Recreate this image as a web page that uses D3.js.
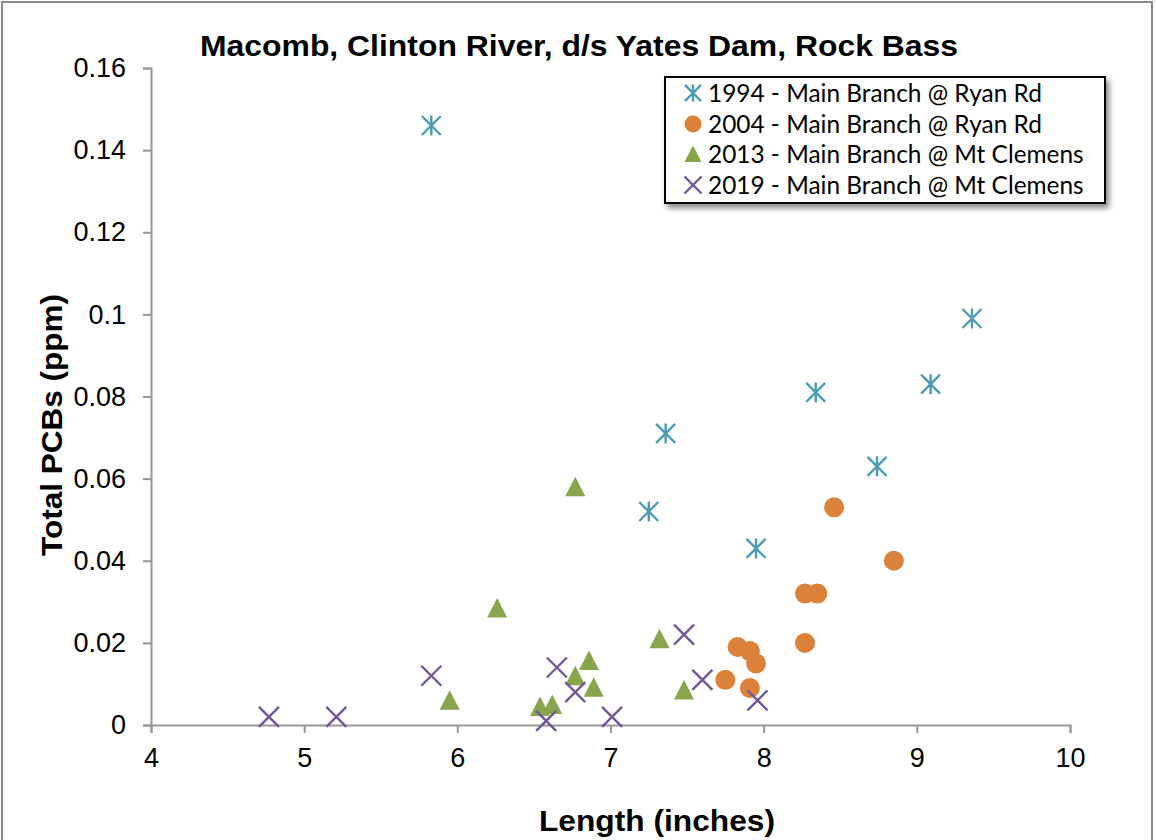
<!DOCTYPE html>
<html>
<head>
<meta charset="utf-8">
<script src="https://cdn.jsdelivr.net/npm/d3@7"></script>
<style>
  html, body { margin: 0; padding: 0; background: #fff; }
  svg { display: block; }
</style>
</head>
<body>
<svg id="chart" width="1156" height="840"></svg>
<script>
// ---- Data ----
const title = "Macomb, Clinton River, d/s Yates Dam, Rock Bass";
const xLabel = "Length (inches)";
const yLabel = "Total PCBs (ppm)";
const xTicks = [4, 5, 6, 7, 8, 9, 10];
const yTicks = [0, 0.02, 0.04, 0.06, 0.08, 0.1, 0.12, 0.14, 0.16];
const seriesNames = [
  "1994 - Main Branch @ Ryan Rd",
  "2004 - Main Branch @ Ryan Rd",
  "2013 - Main Branch @ Mt Clemens",
  "2019 - Main Branch @ Mt Clemens"
];
const len1994 = [5.83, 7.36, 7.25, 7.95, 8.34, 8.74, 9.09, 9.36];
const pcb1994 = [0.146, 0.071, 0.052, 0.043, 0.081, 0.063, 0.083, 0.099];
const len2004 = [8.46, 8.85, 8.27, 8.35, 8.27, 7.83, 7.91, 7.95, 7.75, 7.91];
const pcb2004 = [0.053, 0.040, 0.032, 0.032, 0.020, 0.019, 0.018, 0.015, 0.011, 0.009];
const len2013 = [6.77, 6.26, 5.95, 6.54, 6.62, 6.77, 6.86, 6.89, 7.32, 7.48];
const pcb2013 = [0.058, 0.0285, 0.006, 0.0045, 0.005, 0.012, 0.0157, 0.0092, 0.021, 0.0085];
const len2019 = [4.77, 5.21, 5.83, 6.65, 6.77, 6.58, 7.01, 7.48, 7.60, 7.96];
const pcb2019 = [0.002, 0.002, 0.012, 0.014, 0.008, 0.001, 0.002, 0.022, 0.011, 0.006];

const colors = ["#4A9DB5", "#DB8139", "#87A54B", "#73559B"];
const shapes = ["star", "circle", "triangle", "x"];

const series = [
  { name: seriesNames[0], xs: len1994, ys: pcb1994 },
  { name: seriesNames[1], xs: len2004, ys: pcb2004 },
  { name: seriesNames[2], xs: len2013, ys: pcb2013 },
  { name: seriesNames[3], xs: len2019, ys: pcb2019 }
].map((s, i) => ({ ...s, color: colors[i], shape: shapes[i],
  points: s.xs.map((x, j) => ({ x, y: s.ys[j] })) }));

// ---- Layout ----
const svg = d3.select("#chart");
const plot = { left: 151, right: 1070, top: 68, bottom: 725 };

// outer chart border
svg.append("rect").attr("x", 2).attr("y", 2).attr("width", 1150).attr("height", 860)
  .attr("fill", "#fff").attr("stroke", "#8a8a8a").attr("stroke-width", 2);

const x = d3.scaleLinear().domain([4, 10]).range([plot.left, plot.right]);
const y = d3.scaleLinear().domain([0, 0.16]).range([plot.bottom, plot.top]);

const axisColor = "#979797";

// Y axis
const yAxis = svg.append("g").attr("transform", `translate(${plot.left},0)`)
  .call(d3.axisLeft(y).tickValues(yTicks).tickSize(8).tickPadding(17)
    .tickFormat(d => d3.format("")(+d.toFixed(2))));
yAxis.select(".domain").attr("stroke", axisColor).attr("stroke-width", 2);
yAxis.selectAll(".tick line").attr("stroke", axisColor).attr("stroke-width", 2);
yAxis.selectAll(".tick text").attr("fill", "#000")
  .style("font-family", "'Liberation Sans', Arial, sans-serif").style("font-size", "27px");

// X axis
const xAxis = svg.append("g").attr("transform", `translate(0,${plot.bottom})`)
  .call(d3.axisBottom(x).tickValues(xTicks).tickSize(8).tickPadding(15).tickFormat(d3.format("d")));
xAxis.select(".domain").attr("stroke", axisColor).attr("stroke-width", 2);
xAxis.selectAll(".tick line").attr("stroke", axisColor).attr("stroke-width", 2);
xAxis.selectAll(".tick text").attr("fill", "#000")
  .style("font-family", "'Liberation Sans', Arial, sans-serif").style("font-size", "27px");

// Title
svg.append("text").attr("x", 579).attr("y", 56).attr("text-anchor", "middle")
  .attr("textLength", 758).attr("lengthAdjust", "spacingAndGlyphs")
  .style("font-family", "'Liberation Sans', Arial, sans-serif").style("font-weight", "bold")
  .style("font-size", "29px").text(title);

// Axis titles
svg.append("text").attr("x", 657).attr("y", 831).attr("text-anchor", "middle")
  .attr("textLength", 236).attr("lengthAdjust", "spacingAndGlyphs")
  .style("font-family", "'Liberation Sans', Arial, sans-serif").style("font-weight", "bold")
  .style("font-size", "29px").text(xLabel);

svg.append("text").attr("transform", "translate(62,425) rotate(-90)").attr("text-anchor", "middle")
  .attr("textLength", 262).attr("lengthAdjust", "spacingAndGlyphs")
  .style("font-family", "'Liberation Sans', Arial, sans-serif").style("font-weight", "bold")
  .style("font-size", "29px").text(yLabel);

// ---- Marker drawing ----
function drawMarker(g, shape, color, size) {
  const h = size / 2;
  if (shape === "circle") {
    g.append("circle").attr("r", h).attr("fill", color);
  } else if (shape === "triangle") {
    g.append("path").attr("d", `M0,${-h} L${h},${h * 0.95} L${-h},${h * 0.95} Z`).attr("fill", color);
  } else if (shape === "x") {
    g.append("path").attr("d", `M${-h},${-h} L${h},${h} M${-h},${h} L${h},${-h}`)
      .attr("stroke", color).attr("stroke-width", 2.4).attr("fill", "none");
  } else if (shape === "star") {
    const d = h * 0.95;
    g.append("path").attr("d", `M${-d},${-d} L${d},${d} M${-d},${d} L${d},${-d} M0,${-h} L0,${h}`)
      .attr("stroke", color).attr("stroke-width", 2.4).attr("fill", "none");
  }
}

const markerG = svg.append("g");
series.forEach(s => {
  markerG.selectAll(null).data(s.points).enter().append("g")
    .attr("transform", d => `translate(${x(d.x)},${y(d.y)})`)
    .each(function () { drawMarker(d3.select(this), s.shape, s.color, 20); });
});

// ---- Legend ----
const lg = svg.append("g");
const lx = 665, ly = 77, lw = 440, lh = 126;
const defs = svg.append("defs");
const filt = defs.append("filter").attr("id", "shadow").attr("x", "-10%").attr("y", "-10%")
  .attr("width", "130%").attr("height", "140%");
filt.append("feGaussianBlur").attr("in", "SourceAlpha").attr("stdDeviation", 3).attr("result", "blur");
filt.append("feOffset").attr("dx", 3).attr("dy", 4).attr("result", "off");
filt.append("feComponentTransfer").append("feFuncA").attr("type", "linear").attr("slope", 0.5);
const merge = filt.append("feMerge");
merge.append("feMergeNode");
merge.append("feMergeNode").attr("in", "SourceGraphic");

lg.append("rect").attr("x", lx).attr("y", ly).attr("width", lw).attr("height", lh)
  .attr("fill", "#fff").attr("stroke", "#000").attr("stroke-width", 2).attr("filter", "url(#shadow)");

const rowY = [93, 124, 154, 185];
series.forEach((s, i) => {
  const g = lg.append("g").attr("transform", `translate(693,${rowY[i]})`);
  drawMarker(g, s.shape, s.color, 17);
  lg.append("text").attr("x", 708).attr("y", rowY[i]).attr("dy", "0.35em")
    .style("font-family", "Lato, 'Open Sans', sans-serif").style("font-size", "24.4px")
    .attr("fill", "#000").text(s.name);
});
</script>
</body>
</html>
